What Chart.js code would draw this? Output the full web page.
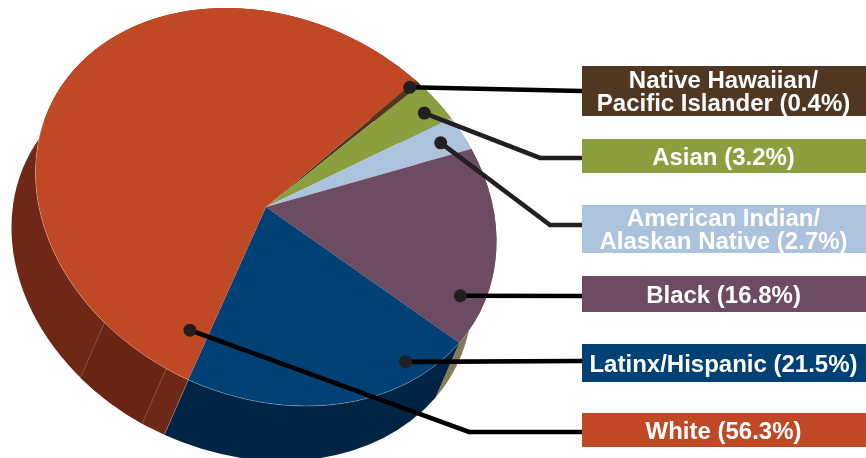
<!DOCTYPE html>
<html>
<head>
<meta charset="utf-8">
<title>Race and ethnicity</title>
<script src="https://cdn.jsdelivr.net/npm/chart.js@4"></script>
<style>
  html, body { margin: 0; padding: 0; background: #fff; overflow: hidden; }
  canvas { display: block; }
</style>
</head>
<body>
<canvas id="pie" width="866" height="458"></canvas>
<script>
// data, in clockwise slice order
const categories = ["Native Hawaiian/\nPacific Islander", "Asian", "American Indian/\nAlaskan Native", "Black", "Latinx/Hispanic", "White"];
const shares = [0.4, 3.2, 2.7, 16.8, 21.5, 56.3];
const topColors = ["#4f3722", "#8b9f3f", "#abc3dc", "#6c4b63", "#004175", "#c14825"];
const wallColors = ["#3a2818", "#5f6d2b", "#7f93a8", "#857a55", "#002544", "#702816"];

// tilt of the disc on the page
const discCenter = { x: 266, y: 207 };
const discAxes = { major: 238.4, minor: 189.5 };
const discTilt = 24.8 * Math.PI / 180;
const wallDrop = { x: -24, y: 55 };

// label boxes and where each leader goes: fraction across the slice, fraction of radius
const boxes = [
  { top: 66, bottom: 116, along: 0.2, out: 0.953, line: "#000", path: [[582, 91]] },
  { top: 139, bottom: 173, along: 0.6, out: 0.912, line: "#231f20", path: [[540, 158], [582, 158]] },
  { top: 205, bottom: 253, along: 0.546, out: 0.887, line: "#231f20", path: [[550, 225], [582, 225]] },
  { top: 276, bottom: 312, along: 0.781, out: 0.896, line: "#000", path: [[582, 296]] },
  { top: 344, bottom: 382, along: 0.202, out: 0.913, line: "#000", path: [[582, 361]] },
  { top: 413, bottom: 447, along: 0.0297, out: 0.762, line: "#000", path: [[469, 432], [582, 432]] }
];

function toRad(d) { return d * Math.PI / 180; }

function enterDisc(ctx, arc) {
  ctx.translate(discCenter.x, discCenter.y);
  ctx.rotate(discTilt);
  ctx.scale(discAxes.major / arc.outerRadius, discAxes.minor / arc.outerRadius);
  ctx.translate(-arc.x, -arc.y);
}

function toPage(angle, frac) {
  const u = Math.cos(angle) * frac * discAxes.major;
  const v = Math.sin(angle) * frac * discAxes.minor;
  return {
    x: discCenter.x + u * Math.cos(discTilt) - v * Math.sin(discTilt),
    y: discCenter.y + u * Math.sin(discTilt) + v * Math.cos(discTilt)
  };
}

function wallPath(ctx, arc, start, end) {
  const k = arc.outerRadius;
  const c = Math.cos(discTilt), s = Math.sin(discTilt);
  const ou = (wallDrop.x * c + wallDrop.y * s) * k / discAxes.major;
  const ov = (-wallDrop.x * s + wallDrop.y * c) * k / discAxes.minor;
  ctx.beginPath();
  ctx.arc(arc.x, arc.y, k, start, end);
  ctx.arc(arc.x + ou, arc.y + ov, k, end, start, true);
  ctx.closePath();
}

const pie3d = {
  id: "pie3d",
  beforeDatasetsDraw(chart) {
    const ctx = chart.ctx;
    const arcs = chart.getDatasetMeta(0).data;
    ctx.save();
    enterDisc(ctx, arcs[0]);
    arcs.forEach((arc, i) => {
      wallPath(ctx, arc, arc.startAngle, arc.endAngle);
      ctx.fillStyle = wallColors[i];
      ctx.fill();
    });
    // white slice wall has a darker panel and two thin seams
    const white = arcs[arcs.length - 1];
    wallPath(ctx, white, toRad(95.5), toRad(114.3));
    ctx.fillStyle = "#6a2413";
    ctx.fill();
    ctx.restore();

    ctx.save();
    ctx.strokeStyle = "rgba(255,255,255,0.3)";
    ctx.lineWidth = 0.7;
    [toRad(95.5), toRad(114.3), white.startAngle].forEach(a => {
      const p = toPage(a, 1);
      ctx.beginPath();
      ctx.moveTo(p.x, p.y);
      ctx.lineTo(p.x + wallDrop.x, p.y + wallDrop.y);
      ctx.stroke();
    });
    ctx.restore();

    // page transform for the library's own slices
    ctx.save();
    enterDisc(ctx, arcs[0]);
  },
  afterDatasetsDraw(chart) {
    const ctx = chart.ctx;
    const arcs = chart.getDatasetMeta(0).data;
    ctx.restore();

    // light rim where the top meets the walls
    ctx.save();
    ctx.strokeStyle = "rgba(255,255,255,0.35)";
    ctx.lineWidth = 0.7;
    ctx.beginPath();
    for (let d = 14; d <= 175; d += 1) {
      const p = toPage(toRad(d), 1);
      if (d === 14) ctx.moveTo(p.x, p.y); else ctx.lineTo(p.x, p.y);
    }
    ctx.stroke();
    ctx.restore();

    // leaders
    ctx.save();
    arcs.forEach((arc, i) => {
      const b = boxes[i];
      const a = arc.startAngle + b.along * (arc.endAngle - arc.startAngle);
      const dot = toPage(a, b.out);
      ctx.strokeStyle = b.line;
      ctx.lineWidth = 4.6;
      ctx.lineJoin = "miter";
      ctx.beginPath();
      ctx.moveTo(dot.x, dot.y);
      b.path.forEach(pt => ctx.lineTo(pt[0], pt[1]));
      ctx.stroke();
      ctx.fillStyle = "#231f20";
      ctx.beginPath();
      ctx.arc(dot.x, dot.y, 6.5, 0, Math.PI * 2);
      ctx.fill();
    });
    ctx.restore();

    // label boxes
    ctx.save();
    ctx.font = "bold 24px 'Liberation Sans', Arial, sans-serif";
    ctx.textAlign = "center";
    ctx.textBaseline = "alphabetic";
    categories.forEach((cat, i) => {
      const b = boxes[i];
      ctx.fillStyle = topColors[i];
      ctx.fillRect(582, b.top, 284, b.bottom - b.top);
      const lines = (cat + " (" + shares[i].toFixed(1) + "%)").split("\n");
      const mid = (b.top + b.bottom) / 2;
      ctx.fillStyle = "#fff";
      lines.forEach((line, n) => {
        const y = mid + 8.5 + (n - (lines.length - 1) / 2) * 23;
        ctx.fillText(line, 723.5, y);
      });
    });
    ctx.restore();
  }
};

new Chart(document.getElementById("pie"), {
  type: "pie",
  data: {
    labels: categories,
    datasets: [{
      data: shares,
      backgroundColor: topColors,
      borderWidth: 0,
      clip: false
    }]
  },
  options: {
    responsive: false,
    animation: false,
    rotation: 20.4,
    layout: { padding: 0 },
    plugins: { legend: { display: false }, tooltip: { enabled: false } }
  },
  plugins: [pie3d]
});
</script>
</body>
</html>
